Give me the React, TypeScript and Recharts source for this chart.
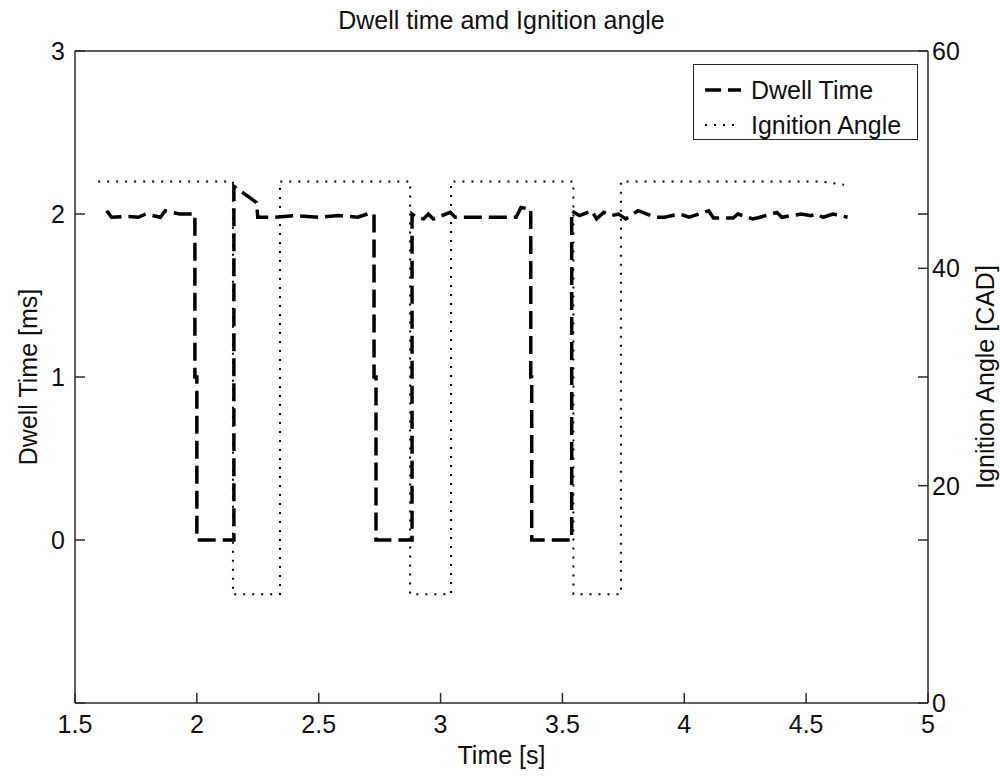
import { LineChart, Line, XAxis, YAxis, Label, Legend } from "recharts";

const FONT = '"Liberation Sans", Arial, Helvetica, sans-serif';
const INK = "#111";
const AXIS = "#2a2a2a";

// x axis (seconds)
const timeTicks = [1.5, 2, 2.5, 3, 3.5, 4, 4.5, 5];
// left axis (ms); -1 sits on the corner and has no label
const dwellTicks = [-1, 0, 1, 2, 3];
// right axis (CAD); 15/30/45 are the mirrored left-axis ticks (box on)
const angleTicks = [0, 15, 20, 30, 40, 45, 60];
const angleLabels = [0, 20, 40, 60];

const dwellTime = [
  1.63, 1.65, 1.72, 1.76, 1.79, 1.85, 1.87, 1.93, 1.992, 1.992, 2.0, 2.0,
  2.152, 2.152, 2.19, 2.245, 2.25, 2.32, 2.4, 2.5, 2.58, 2.66, 2.7, 2.727, 2.727, 2.735, 2.735,
  2.883, 2.883, 2.9, 2.93, 2.95, 2.97, 3.04, 3.06, 3.15, 3.25, 3.31, 3.33, 3.365, 3.37, 3.37, 3.374, 3.374,
  3.538, 3.538, 3.57, 3.62, 3.64, 3.67, 3.7, 3.73, 3.76, 3.81, 3.88, 3.92, 3.98, 4.02, 4.1, 4.12,
  4.2, 4.22, 4.28, 4.31, 4.38, 4.4, 4.48, 4.52, 4.54, 4.57, 4.61, 4.67,
];
const dwellMs = [
  2.02, 1.98, 1.985, 1.98, 2.0, 1.98, 2.02, 2.0, 2.0, 1.0, 1.0, 0,
  0, 2.17, 2.13, 2.07, 1.98, 1.98, 1.99, 1.98, 1.99, 1.98, 2.0, 2.0, 1.0, 1.0, 0,
  0, 2.0, 1.98, 1.97, 2.0, 1.97, 2.01, 1.98, 1.98, 1.98, 1.98, 2.04, 2.03, 2.03, 1.0, 1.0, 0,
  0, 2.02, 1.99, 2.02, 1.97, 2.01, 1.99, 2.0, 1.97, 2.02, 1.98, 1.98, 2.0, 1.98, 2.02, 1.975,
  1.975, 2.0, 1.97, 1.98, 2.01, 1.98, 2.0, 1.99, 2.0, 1.98, 2.0, 1.98,
];

const ignTime = [1.595, 2.148, 2.148, 2.341, 2.341, 2.875, 2.875, 3.043, 3.043, 3.545, 3.545, 3.74, 3.74, 4.56, 4.655];
const ignAngle = [48, 48, 10, 10, 48, 48, 10, 10, 48, 48, 10, 10, 48, 48, 47.7];

const dwellData = dwellTime.map((t, i) => ({ t, v: dwellMs[i] }));
const ignData = ignTime.map((t, i) => ({ t, v: ignAngle[i] }));

const legendItems = [
  { name: "Dwell Time", dash: "16 7", width: 3.5 },
  { name: "Ignition Angle", dash: "2 7", width: 2 },
];

function LegendBox() {
  return (
    <div
      style={{
        position: "relative",
        boxSizing: "border-box",
        width: 225,
        height: 76,
        border: `1.5px solid ${AXIS}`,
        background: "#fff",
        fontFamily: FONT,
        fontSize: 25,
        color: INK,
      }}
    >
      {legendItems.map((item, i) => (
        <div
          key={item.name}
          style={{
            position: "absolute",
            left: 11,
            top: 9 + i * 35,
            height: 32,
            display: "flex",
            alignItems: "center",
            whiteSpace: "nowrap",
          }}
        >
          <svg width={36} height={32} style={{ marginRight: 10 }}>
            <line x1={0} x2={36} y1={16} y2={16} stroke="#000" strokeWidth={item.width} strokeDasharray={item.dash} />
          </svg>
          <span style={{ lineHeight: "32px" }}>{item.name}</span>
        </div>
      ))}
    </div>
  );
}

const tickStyle = { fontSize: 25, fill: INK, fontFamily: FONT };
const labelStyle = { fontSize: 25, fill: INK, fontFamily: FONT };

export default function App() {
  return (
    <div style={{ position: "absolute", left: 0, top: 0, width: 1000, height: 776, background: "#fff" }}>
      <LineChart width={1000} height={776} margin={{ top: 50, right: 0, bottom: 0, left: 0 }}>
        <XAxis
          xAxisId="bottom"
          dataKey="t"
          type="number"
          domain={[1.5, 5]}
          ticks={timeTicks}
          allowDataOverflow
          height={73}
          tick={tickStyle}
          tickSize={-10}
          tickMargin={22}
          stroke={AXIS}
          strokeWidth={1.5}
        >
          <Label value="Time [s]" position="center" dy={16} style={labelStyle} />
        </XAxis>
        <XAxis
          xAxisId="top"
          orientation="top"
          dataKey="t"
          type="number"
          domain={[1.5, 5]}
          ticks={timeTicks}
          allowDataOverflow
          height={1}
          tick={false}
          tickSize={-10}
          stroke={AXIS}
          strokeWidth={1.5}
        >
          <Label value="Dwell time amd Ignition angle" position="center" dy={-30} style={labelStyle} />
        </XAxis>
        <YAxis
          yAxisId="left"
          type="number"
          domain={[-1, 3]}
          ticks={dwellTicks}
          allowDataOverflow
          width={75}
          tick={tickStyle}
          tickFormatter={(v: number) => (v < 0 ? "" : String(v))}
          tickSize={-10}
          tickMargin={20}
          stroke={AXIS}
          strokeWidth={1.5}
        >
          <Label value="Dwell Time [ms]" angle={-90} position="center" dx={-9} style={labelStyle} />
        </YAxis>
        <YAxis
          yAxisId="right"
          orientation="right"
          type="number"
          domain={[0, 60]}
          ticks={angleTicks}
          allowDataOverflow
          width={72}
          tick={tickStyle}
          tickFormatter={(v: number) => (angleLabels.includes(v) ? String(v) : "")}
          tickSize={-10}
          tickMargin={14}
          stroke={AXIS}
          strokeWidth={1.5}
        >
          <Label value="Ignition Angle [CAD]" angle={-90} position="center" dx={21} style={labelStyle} />
        </YAxis>
        <Legend
          layout="vertical"
          align="center"
          verticalAlign="middle"
          wrapperStyle={{ left: 693, top: 64, width: 225, height: 76 }}
          content={() => <LegendBox />}
        />
        <Line
          data={ignData}
          dataKey="v"
          name="Ignition Angle"
          xAxisId="top"
          yAxisId="right"
          type="linear"
          stroke="#000"
          strokeWidth={2}
          strokeDasharray="2 7"
          dot={false}
          activeDot={false}
          isAnimationActive={false}
        />
        <Line
          data={dwellData}
          dataKey="v"
          name="Dwell Time"
          xAxisId="bottom"
          yAxisId="left"
          type="linear"
          stroke="#000"
          strokeWidth={3.5}
          strokeDasharray="18 7"
          dot={false}
          activeDot={false}
          isAnimationActive={false}
        />
      </LineChart>
    </div>
  );
}
